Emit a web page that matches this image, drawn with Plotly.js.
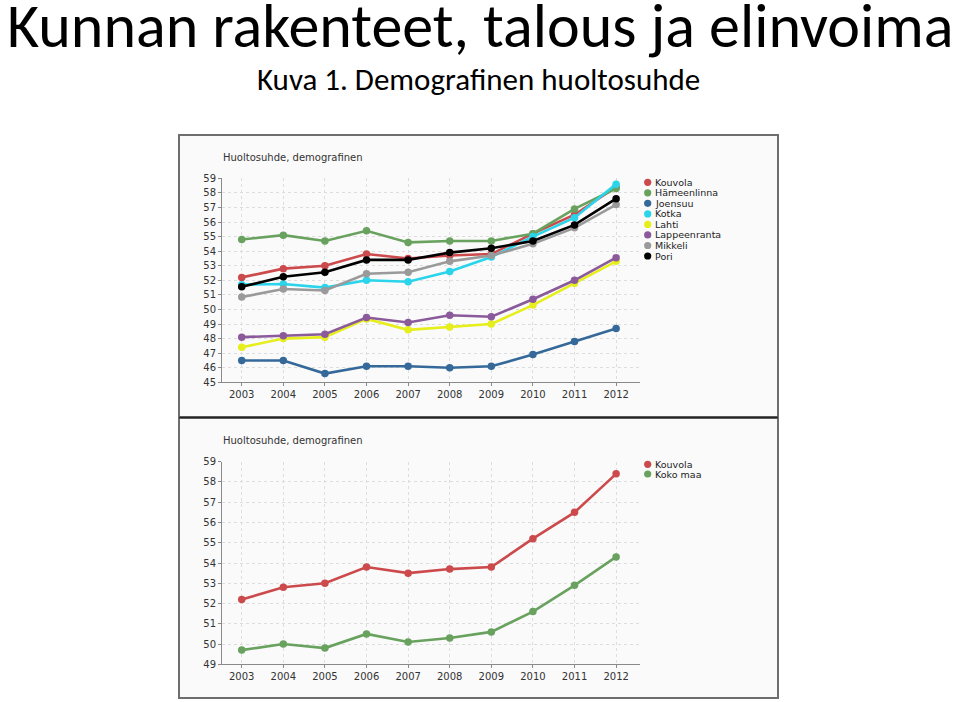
<!DOCTYPE html>
<html>
<head>
<meta charset="utf-8">
<script src="https://cdn.plot.ly/plotly-3.0.1.min.js"></script>
<style>
  html, body { margin: 0; padding: 0; background: #ffffff; }
  #chart { width: 960px; height: 702px; }
</style>
</head>
<body>
<div id="chart"></div>
<script>
// ---- Data ----
const years = ['2003', '2004', '2005', '2006', '2007', '2008', '2009', '2010', '2011', '2012'];

const seriesNames = ['Kouvola', 'Hämeenlinna', 'Joensuu', 'Kotka', 'Lahti', 'Lappeenranta', 'Mikkeli', 'Pori'];
const seriesColors = ['#cc4a4c', '#68a25e', '#35699a', '#2ad4ea', '#e6ee1c', '#8a5a9a', '#9a9a9a', '#000000'];

const kouvola      = [52.2, 52.8, 53.0, 53.8, 53.5, 53.7, 53.8, 55.2, 56.5, 58.4];
const hameenlinna  = [54.8, 55.1, 54.7, 55.4, 54.6, 54.7, 54.7, 55.2, 56.9, 58.3];
const joensuu      = [46.5, 46.5, 45.6, 46.1, 46.1, 46.0, 46.1, 46.9, 47.8, 48.7];
const kotka        = [51.7, 51.75, 51.5, 52.0, 51.9, 52.6, 53.6, 55.0, 56.3, 58.6];
const lahti        = [47.4, 48.0, 48.1, 49.35, 48.6, 48.8, 49.0, 50.3, 51.8, 53.3];
const lappeenranta = [48.1, 48.2, 48.3, 49.45, 49.1, 49.6, 49.5, 50.7, 52.0, 53.55];
const mikkeli      = [50.85, 51.4, 51.3, 52.45, 52.55, 53.3, 53.7, 54.5, 55.6, 57.2];
const pori         = [51.55, 52.25, 52.55, 53.4, 53.4, 53.9, 54.2, 54.7, 55.8, 57.6];

const bottomNames  = ['Kouvola', 'Koko maa'];
const bottomColors = ['#cc4a4c', '#68a25e'];
const kokoMaa      = [49.7, 50.0, 49.8, 50.5, 50.1, 50.3, 50.6, 51.6, 52.9, 54.3];

const topValues = [kouvola, hameenlinna, joensuu, kotka, lahti, lappeenranta, mikkeli, pori];
const bottomValues = [kouvola, kokoMaa];

const pageTitle = 'Kunnan rakenteet, talous ja elinvoima';
const pageSubtitle = 'Kuva 1. Demografinen huoltosuhde';
const panelTitle = 'Huoltosuhde, demografinen';

// ---- Layout helpers (page pixels -> paper fractions) ----
const W = 960, H = 702;
const px = v => v / W;
const py = v => 1 - v / H;

const traces = [];
topValues.forEach((vals, i) => {
  traces.push({
    x: years, y: vals, type: 'scatter', mode: 'lines+markers',
    name: seriesNames[i], xaxis: 'x', yaxis: 'y',
    line: { color: seriesColors[i], width: 2.6 },
    marker: { color: seriesColors[i], size: 7.5 },
    cliponaxis: false, showlegend: false
  });
});
bottomValues.forEach((vals, i) => {
  traces.push({
    x: years, y: vals, type: 'scatter', mode: 'lines+markers',
    name: bottomNames[i], xaxis: 'x2', yaxis: 'y2',
    line: { color: bottomColors[i], width: 2.6 },
    marker: { color: bottomColors[i], size: 7.5 },
    cliponaxis: false, showlegend: false
  });
});

const tickFont = { family: 'DejaVu Sans, Verdana, sans-serif', size: 10, color: '#333333' };
const xRange = [-0.474, 9.574];
function xAxis(anchor) {
  return {
    type: 'category', range: xRange, anchor: anchor,
    domain: [px(222), px(640)],
    showline: true, linecolor: '#8a8a8a', linewidth: 1,
    ticks: 'outside', ticklen: 3, tickcolor: '#8a8a8a',
    showgrid: true, gridcolor: '#dddddd', griddash: 'dot', gridwidth: 1,
    tickfont: tickFont, zeroline: false, fixedrange: true
  };
}
function yAxis(anchor, range, top, bottom) {
  return {
    range: range, dtick: 1, anchor: anchor,
    domain: [py(bottom), py(top)],
    showline: true, linecolor: '#8a8a8a', linewidth: 1,
    ticks: 'outside', ticklen: 3, tickcolor: '#8a8a8a',
    showgrid: true, gridcolor: '#dddddd', griddash: 'dot', gridwidth: 1,
    tickfont: tickFont, zeroline: false, fixedrange: true
  };
}

const shapes = [
  { type: 'rect', xref: 'paper', yref: 'paper', layer: 'below',
    x0: px(179), x1: px(778), y0: py(417), y1: py(135),
    fillcolor: '#fafafa', line: { color: '#6e6e6e', width: 2 } },
  { type: 'rect', xref: 'paper', yref: 'paper', layer: 'below',
    x0: px(179), x1: px(778), y0: py(698), y1: py(418),
    fillcolor: '#fafafa', line: { color: '#6e6e6e', width: 2 } },
  { type: 'line', xref: 'paper', yref: 'paper', layer: 'below',
    x0: px(179), x1: px(778), y0: py(417.5), y1: py(417.5),
    line: { color: '#222222', width: 1.5 } }
];

const annotations = [
  { xref: 'paper', yref: 'paper', x: px(480), y: py(26), xanchor: 'center', yanchor: 'middle',
    text: pageTitle, showarrow: false, borderpad: 0,
    font: { family: 'Carlito, Lato, sans-serif', size: 62, color: '#000000' } },
  { xref: 'paper', yref: 'paper', x: px(478), y: py(79), xanchor: 'center', yanchor: 'middle',
    text: pageSubtitle, showarrow: false, borderpad: 0,
    font: { family: 'Carlito, Lato, sans-serif', size: 31, color: '#000000' } },
  { xref: 'paper', yref: 'paper', x: px(221), y: py(158), xanchor: 'left', yanchor: 'middle',
    text: panelTitle, showarrow: false,
    font: { family: 'DejaVu Sans, Verdana, sans-serif', size: 10, color: '#333333' } },
  { xref: 'paper', yref: 'paper', x: px(221), y: py(440.5), xanchor: 'left', yanchor: 'middle',
    text: panelTitle, showarrow: false,
    font: { family: 'DejaVu Sans, Verdana, sans-serif', size: 10, color: '#333333' } }
];

// Legends drawn from the series names/colours
function addLegend(names, colors, startY, step) {
  names.forEach((n, i) => {
    const cy = startY + i * step;
    shapes.push({ type: 'circle', xref: 'paper', yref: 'paper',
      x0: px(647.7 - 3.6), x1: px(647.7 + 3.6), y0: py(cy + 3.6), y1: py(cy - 3.6),
      fillcolor: colors[i], line: { width: 0 } });
    annotations.push({ xref: 'paper', yref: 'paper', x: px(654), y: py(cy), xanchor: 'left', yanchor: 'middle',
      text: n, showarrow: false, borderpad: 0,
      font: { family: 'DejaVu Sans, Verdana, sans-serif', size: 9.5, color: '#222222' } });
  });
}
addLegend(seriesNames, seriesColors, 182.3, 10.53);
addLegend(bottomNames, bottomColors, 464.3, 9.7);

const layout = {
  width: W, height: H,
  margin: { l: 0, r: 0, t: 0, b: 0 },
  paper_bgcolor: '#ffffff', plot_bgcolor: 'rgba(0,0,0,0)',
  showlegend: false,
  xaxis: xAxis('y'),
  yaxis: yAxis('x', [45, 59], 178.3, 382.3),
  xaxis2: xAxis('y2'),
  yaxis2: yAxis('x2', [49, 59], 461.7, 664.3),
  shapes: shapes,
  annotations: annotations,
  hovermode: false
};

Plotly.newPlot('chart', traces, layout, { displayModeBar: false, staticPlot: true });
</script>
</body>
</html>
